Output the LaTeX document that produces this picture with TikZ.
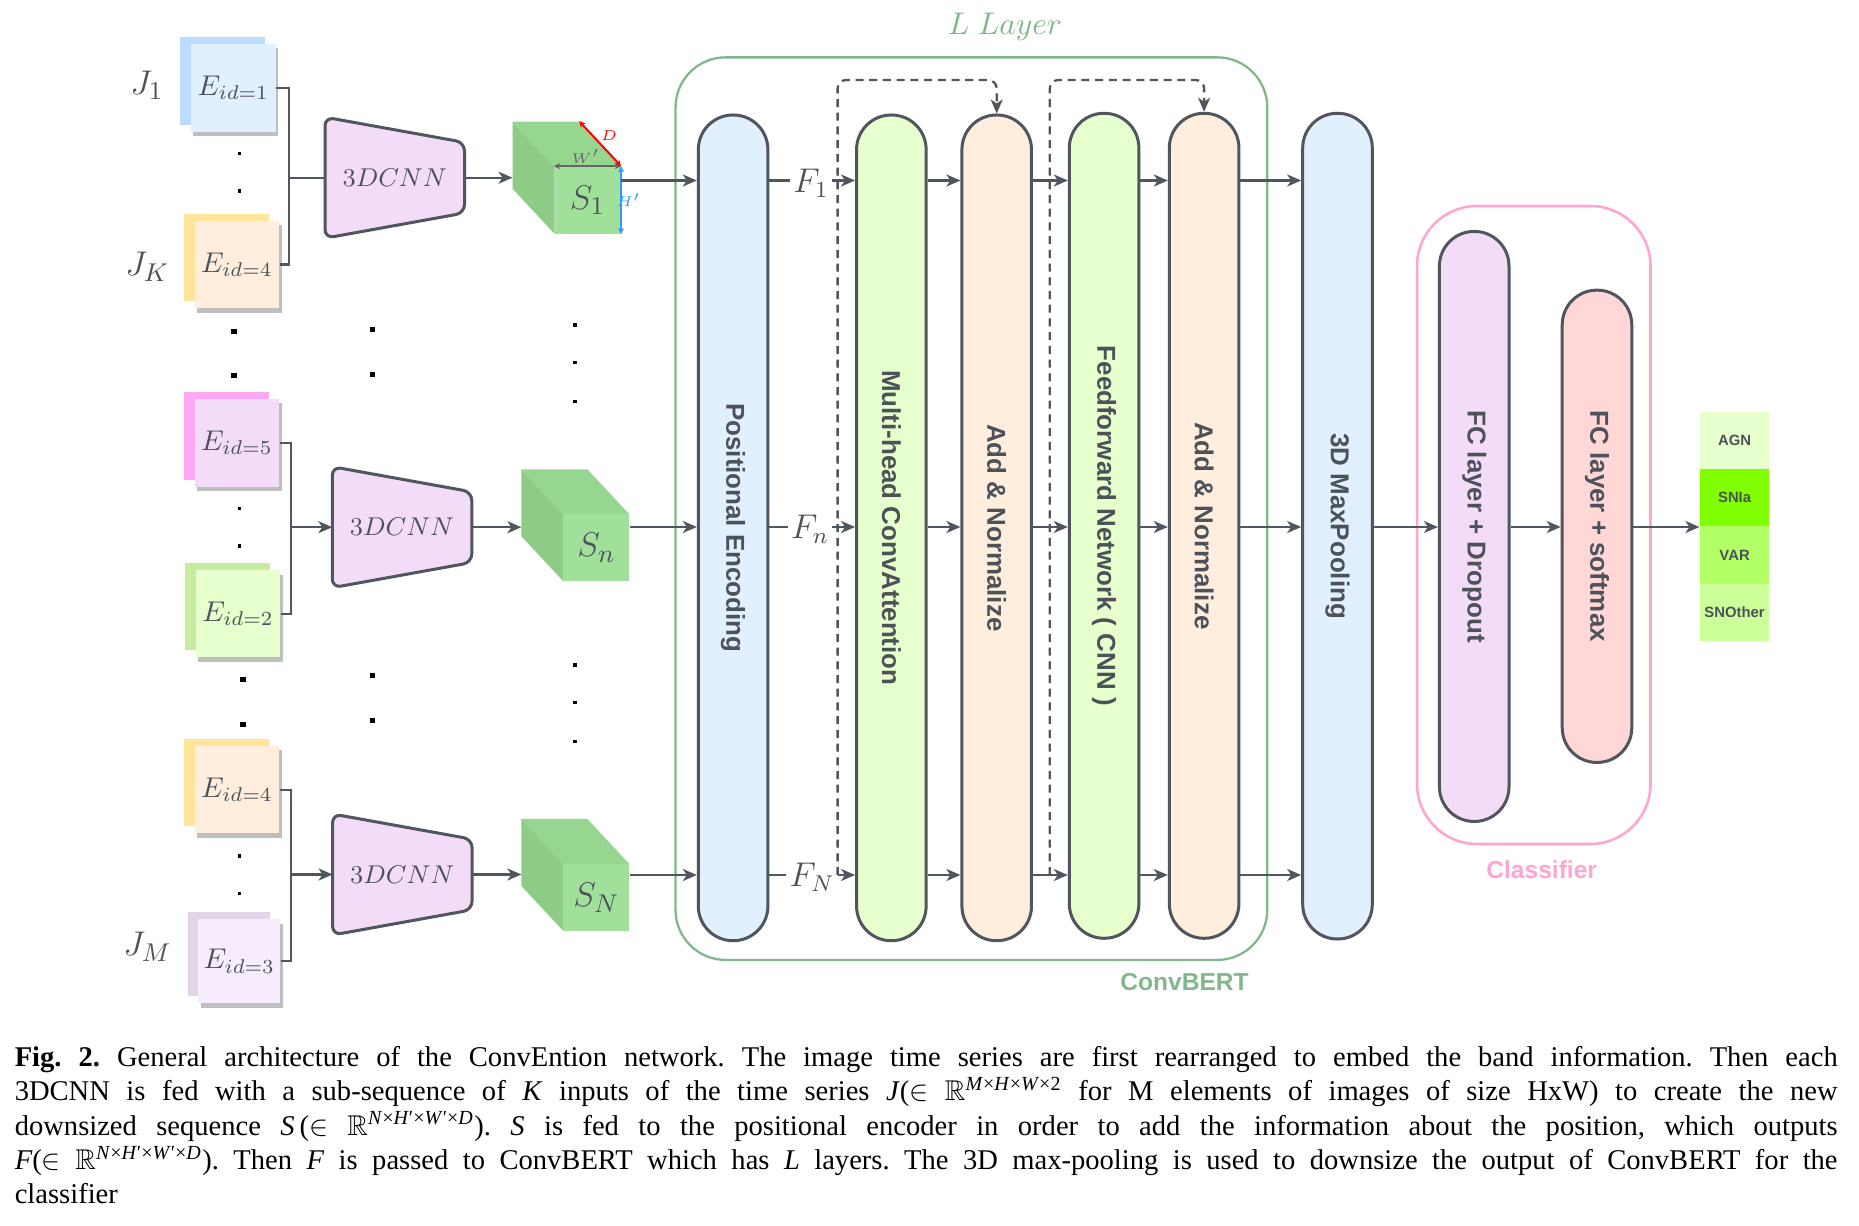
\documentclass[tikz,border=0pt]{standalone}
\usepackage{amssymb}
\usepackage{fontspec}
\setmainfont{Liberation Serif}
\newfontfamily\arialf{Liberation Sans}
\usetikzlibrary{arrows.meta,calc}

\definecolor{strokeg}{RGB}{80,86,94}
\definecolor{textg}{RGB}{77,81,88}
\definecolor{pblue}{RGB}{225,239,254}
\definecolor{pgreen}{RGB}{230,255,205}
\definecolor{ppeach}{RGB}{255,238,222}
\definecolor{plav}{RGB}{243,220,247}
\definecolor{ppink}{RGB}{255,215,215}
\definecolor{boxgreen}{RGB}{130,183,140}
\definecolor{boxpink}{RGB}{255,166,208}
\definecolor{cfront}{RGB}{160,224,154}
\definecolor{ctop}{RGB}{151,214,145}
\definecolor{cside}{RGB}{141,203,135}
\definecolor{agnc}{RGB}{230,255,204}
\definecolor{sniac}{RGB}{128,255,0}
\definecolor{varc}{RGB}{179,255,102}
\definecolor{snoc}{RGB}{204,255,153}
\definecolor{c1b}{RGB}{187,220,255}
\definecolor{c1f}{RGB}{225,240,255}
\definecolor{c4b}{RGB}{255,229,153}
\definecolor{c4f}{RGB}{255,238,222}
\definecolor{c5b}{RGB}{255,168,247}
\definecolor{c5f}{RGB}{243,220,247}
\definecolor{c2b}{RGB}{198,236,160}
\definecolor{c2f}{RGB}{230,255,205}
\definecolor{c3b}{RGB}{225,213,231}
\definecolor{c3f}{RGB}{246,236,253}
\definecolor{shadowc}{RGB}{191,191,191}
\definecolor{dimgray}{RGB}{102,102,102}
\definecolor{dimred}{RGB}{255,0,0}
\definecolor{dimblue}{RGB}{51,153,255}

\tikzset{
  conn/.style={draw=strokeg, line width=0.8pt},
  arr/.style={conn, -{Stealth[length=4.9pt,width=4.2pt,inset=1.4pt]}},
  dasharr/.style={arr, dash pattern=on 2.8pt off 2pt, rounded corners=3pt},
  pill/.style={draw=strokeg, line width=1.05pt, rounded corners=12.1pt, minimum width=24.35pt, inner sep=0pt, text=textg, font=\arialf\bfseries\fontsize{9.07}{10}\selectfont},
  cardst/.style={inner sep=0pt, text=textg, font=\fontsize{10.25}{12}\selectfont},
  trapst/.style={draw=strokeg, fill=plav, line width=1.05pt, rounded corners=3pt},
  trapt/.style={inner sep=0pt, text=textg, font=\fontsize{9.5}{12}\selectfont},
  cubefront/.style={fill=cfront, minimum width=23.1pt, minimum height=23.45pt, inner sep=0pt, text=textg, font=\fontsize{12.5}{14}\selectfont},
  jlab/.style={inner sep=0pt, text=textg, font=\fontsize{12.5}{14}\selectfont},
  flab/.style={inner sep=1pt, text=textg, font=\fontsize{12}{14}\selectfont},
  outst/.style={minimum width=24.22pt, minimum height=20.09pt, inner sep=0pt, text=textg, font=\arialf\bfseries\fontsize{5.2}{6}\selectfont},
  dimst/.style={line width=0.45pt, {Stealth[length=2.2pt,width=2.2pt]}-{Stealth[length=2.2pt,width=2.2pt]}},
  dimlab/.style={inner sep=0pt, font=\fontsize{5.3}{6}\selectfont},
}

\newcommand\card[8]{%
  \fill[#6] ({#2-#4/2-10.6},{#3-#5/2-7}) rectangle ({#2+#4/2-10.6},{#3+#5/2-7});
  \fill[shadowc] ({#2-#4/2+2.5},{#3-#5/2+4.3}) rectangle ({#2+#4/2+2.5},{#3+#5/2+4.3});
  \node[cardst, fill=#7, minimum width={#4*0.35pt}, minimum height={#5*0.35pt}] (#1) at (#2,#3) {#8};
}
\newcommand\trapz[3]{%
  \draw[trapst] (#2,{#3-60.5}) -- ({#2+139.5},{#3-35.3}) -- ({#2+139.5},{#3+35.3}) -- (#2,{#3+60.5}) -- cycle;
  \node[trapt] (#1) at ({#2+69.7},#3) {$3DCNN$};
  \coordinate (#1w) at (#2,#3);
  \coordinate (#1e) at ({#2+139.5},#3);
}
\newcommand\cubeS[5]{%
  \fill[cside] (#2,#3) -- ({#2+42},{#3+45}) -- ({#2+42},{#3+112}) -- (#2,{#3+67}) -- cycle;
  \fill[ctop] (#2,#3) -- ({#2+66},#3) -- ({#2+108},{#3+45}) -- ({#2+42},{#3+45}) -- cycle;
  \node[cubefront] (#1) at ({#2+75},{#3+78.5}) {#4};
  \coordinate (#1in) at (#2,#5);
}
\newcommand\bigdot[2]{\fill[black] ({#1-2.7},{#2-2.5}) rectangle ({#1+2.7},{#2+2.5});}
\newcommand\smalldot[2]{\fill[black] ({#1-1.8},{#2-1.7}) rectangle ({#1+1.8},{#2+1.7});}

\begin{document}
\begin{tikzpicture}[x=0.35pt,y=-0.35pt]
\fill[white] (0,0) rectangle (1859,1226);
\useasboundingbox (0,0) rectangle (1859,1226);

% row levels
\coordinate (r1) at (0,180.5);
\coordinate (r2) at (0,527);
\coordinate (r3) at (0,875);

% ---------- input cards ----------
\card{e1}{233.35}{87.85}{85}{87.7}{c1b}{c1f}{$E_{id=1}$}
\card{e4a}{236.95}{264.65}{84.7}{87.3}{c4b}{c4f}{$E_{id=4}$}
\card{e5}{236.95}{442.85}{84.7}{87.7}{c5b}{c5f}{$E_{id=5}$}
\card{e2}{238}{613.8}{84.7}{87}{c2b}{c2f}{$E_{id=2}$}
\card{e4b}{236.95}{789.65}{84.7}{87.3}{c4b}{c4f}{$E_{id=4}$}
\card{e3}{239.3}{961.3}{82.2}{84}{c3b}{c3f}{$E_{id=3}$}

\node[jlab] (J1) at (147,85) {$J_1$};
\node[jlab] (JK) at (147.4,266.7) {$J_K$};
\node[jlab] (JM) at (147.4,946.7) {$J_M$};

% dots
\smalldot{239.3}{153.3}\smalldot{239.3}{191}
\bigdot{234}{331.7}\bigdot{234}{376}
\bigdot{372.5}{330}\bigdot{372.5}{374.3}
\smalldot{575}{325}\smalldot{575}{362.7}\smalldot{575}{401.7}
\smalldot{239.3}{508.3}\smalldot{239.3}{546}
\bigdot{242.9}{680}\bigdot{242.9}{725}
\bigdot{372.5}{675.7}\bigdot{372.5}{720.7}
\smalldot{575}{665}\smalldot{575}{702.7}\smalldot{575}{741.7}
\smalldot{239.3}{856}\smalldot{239.3}{893.3}

% ---------- 3DCNN ----------
\trapz{cnn1}{325}{177.7}
\trapz{cnn2}{332.3}{527.2}
\trapz{cnn3}{332.6}{874.5}

\coordinate (br1) at (289.3,177.7);
\coordinate (br2) at (291,527.2);
\coordinate (br3) at (291,874.5);
\draw[conn] (e1.east) -| (br1) |- (e4a.east);
\draw[conn] (e5.east) -| (br2) |- (e2.east);
\draw[conn] (e4b.east) -| (br3) |- (e3.east);
\draw[conn] (br1) -- (cnn1w);
\draw[arr] (br2) -- (cnn2w);
\draw[arr] (br3) -- (cnn3w);

% ---------- cubes ----------
\cubeS{S1}{512.5}{121.7}{$S_1$}{177.7}
\cubeS{Sn}{521.4}{469.3}{$S_n$}{527.2}
\cubeS{SN}{521.4}{819}{$S_N$}{874.5}
\draw[arr] (cnn1e) -- (S1in);
\draw[arr] (cnn2e) -- (Snin);
\draw[arr] (cnn3e) -- (SNin);

% dimensions on S1
\draw[dimst, draw=dimgray] (S1.north west) -- (S1.north east);
\draw[dimst, draw=dimred, line width=0.7pt] ($(S1.north east)+(-42,-45)$) -- (S1.north east);
\draw[dimst, draw=dimblue, line width=0.6pt] (S1.north east) -- (S1.south east);
\node[dimlab, text=dimgray] (Wl) at (585.7,156.7) {$W'$};
\node[dimlab, text=dimred] (Dl) at (609,136) {$D$};
\node[dimlab, text=dimblue] (Hl) at (628.6,200) {$H'$};

% ---------- ConvBERT ----------
\node[draw=boxgreen, line width=0.8pt, rounded corners=17.5pt, minimum width=207.1pt, minimum height=315.9pt] (convbert) at (971.4,508.65) {};
\node[text=boxgreen, inner sep=0pt, font=\fontsize{10.5}{12}\selectfont] (llayer) at (1005,26.7) {$L\;Layer$};
\node[text=boxgreen, inner sep=0pt, font=\arialf\bfseries\fontsize{8.6}{10}\selectfont] (cblab) at (1184.5,982.3) {ConvBERT};

\node[pill, fill=pblue, minimum height=289pt] (PE) at (733.1,527.85) {\rotatebox{-90}{Positional Encoding}};
\node[pill, fill=pgreen, minimum height=289pt] (MH) at (891.35,527.85) {\rotatebox{-90}{Multi-head ConvAttention}};
\node[pill, fill=ppeach, minimum height=289pt] (AN1) at (996.7,527.85) {\rotatebox{-90}{Add \& Normalize}};
\node[pill, fill=pgreen, minimum height=288.75pt] (FFN) at (1104.1,525.8) {\rotatebox{-90}{Feedforward Network ( CNN )}};
\node[pill, fill=ppeach, minimum height=288.75pt] (AN2) at (1204.1,525.8) {\rotatebox{-90}{Add \& Normalize}};
\node[pill, fill=pblue, minimum height=289pt] (MP) at (1337.5,526.15) {\rotatebox{-90}{3D MaxPooling}};

% residual dashed connections
\coordinate (d1b) at (837.6,875);
\coordinate (d1t) at (837.6,80);
\coordinate (d2b) at (1049.8,875);
\coordinate (d2t) at (1049.8,80);
\draw[dasharr] (d1b) -- (d1t) -| (AN1.north);
\draw[dasharr] (d2b) -- (d2t) -| (AN2.north);

% F labels
\node[flab] (F1) at (811,183) {$F_1$};
\node[flab] (Fn) at (810,529) {$F_n$};
\node[flab] (FN) at (812,877) {$F_N$};

% row arrows
\draw[arr] (S1.east |- r1) -- (PE.west |- r1);
\draw[arr] (Sn.east |- r2) -- (PE.west |- r2);
\draw[arr] (SN.east |- r3) -- (PE.west |- r3);
\draw[conn] (PE.east |- r1) -- (F1.west |- r1);
\draw[conn] (PE.east |- r2) -- (Fn.west |- r2);
\draw[conn] (PE.east |- r3) -- (FN.west |- r3);
\draw[arr] (F1.east |- r1) -- (MH.west |- r1);
\draw[arr] (Fn.east |- r2) -- (MH.west |- r2);
\draw[arr] (FN.east |- r3) -- (MH.west |- r3);
\foreach \r in {r1,r2,r3}{
  \draw[arr] (MH.east |- \r) -- (AN1.west |- \r);
  \draw[arr] (AN1.east |- \r) -- (FFN.west |- \r);
  \draw[arr] (FFN.east |- \r) -- (AN2.west |- \r);
  \draw[arr] (AN2.east |- \r) -- (MP.west |- \r);
}

% ---------- Classifier ----------
\node[draw=boxpink, line width=0.9pt, rounded corners=21pt, minimum width=81.7pt, minimum height=223.3pt] (classif) at (1533.75,525) {};
\node[text=boxpink, inner sep=0pt, font=\arialf\bfseries\fontsize{8.6}{10}\selectfont] (clab) at (1541.7,869.6) {Classifier};
\node[pill, fill=plav, minimum height=206.5pt] (FC1) at (1474.2,526.45) {\rotatebox{-90}{FC layer + Dropout}};
\node[pill, fill=ppink, minimum height=165.3pt] (FC2) at (1597,526.3) {\rotatebox{-90}{FC layer + softmax}};

\node[outst, fill=agnc] (agn) at (1734.6,440.4) {AGN};
\node[outst, fill=sniac] (snia) at (1734.6,497.75) {SNIa};
\node[outst, fill=varc] (var) at (1734.6,555.1) {VAR};
\node[outst, fill=snoc] (snother) at (1734.6,612.45) {SNOther};

\draw[arr] (MP.east |- r2) -- (FC1.west |- r2);
\draw[arr] (FC1.east |- r2) -- (FC2.west |- r2);
\draw[arr] (FC2.east |- snia.south west) -- (snia.south west);

% ---------- caption ----------
\node[anchor=north west, inner sep=0pt, text width=638pt, align=justify, font=\fontsize{10}{12}\selectfont] (caption) at (14.2,1046) {\frenchspacing
\textbf{Fig. 2.} General architecture of the ConvEntion network. The image time series are first rearranged to embed the band information. Then each\linebreak
3DCNN is fed with a sub-sequence of \textit{K} inputs of the time series \textit{J}($\in$ $\mathbb{R}$\textsuperscript{\textit{M}×\textit{H}×\textit{W}×2} for M elements of images of size HxW) to create the new\linebreak
downsized sequence \textit{S}\,($\in$ $\mathbb{R}$\textsuperscript{\textit{N}×\textit{H}′×\textit{W}′×\textit{D}}). \textit{S} is fed to the positional encoder in order to add the information about the position, which outputs\linebreak
\textit{F}($\in$ $\mathbb{R}$\textsuperscript{\textit{N}×\textit{H}′×\textit{W}′×\textit{D}}). Then \textit{F} is passed to ConvBERT which has \textit{L} layers. The 3D max-pooling is used to downsize the output of ConvBERT for the\linebreak
classifier};
\end{tikzpicture}
\end{document}
